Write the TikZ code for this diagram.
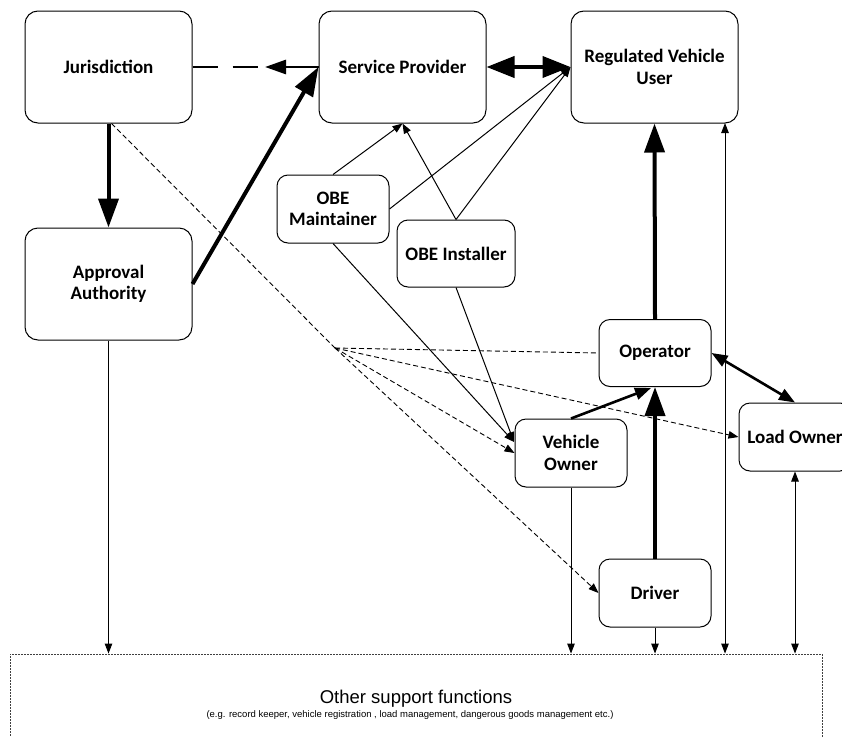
\documentclass[tikz,border=0pt]{standalone}
\usepackage{fontspec}
\setmainfont{Carlito}
\newfontfamily\supfont{Liberation Sans}
\usetikzlibrary{arrows.meta,calc}

\begin{document}
\begin{tikzpicture}[x=1pt,y=-1pt,
  box/.style={draw, line width=1pt, rounded corners=13pt, align=center,
    font=\bfseries\fontsize{19}{21.5}\selectfont, inner sep=0pt},
  bigbox/.style={box, minimum width=167pt, minimum height=112pt},
  smallbox/.style={box, rounded corners=11pt},
  thinline/.style={line width=1pt},
  thinarrow/.style={thinline, -{Triangle[length=10pt,width=7.5pt]}},
  thinboth/.style={thinline, {Triangle[length=10pt,width=7.5pt]}-{Triangle[length=10pt,width=7.5pt]}},
  dashline/.style={line width=0.9pt, dash pattern=on 5pt off 3pt},
  dasharrow/.style={dashline, -{Triangle[length=10pt,width=7.5pt]}},
  heavyarrow/.style={line width=4pt, -{Triangle[length=29pt,width=20pt]}},
  heavyboth/.style={line width=4pt, {Triangle[length=28pt,width=21pt]}-{Triangle[length=28pt,width=21pt]}},
  midarrow/.style={line width=2.6pt, -{Triangle[length=16pt,width=12pt]}},
  midboth/.style={line width=2.6pt, {Triangle[length=16pt,width=12pt]}-{Triangle[length=16pt,width=12pt]}},
]
\clip (0,0) rectangle (842,736);
\fill[white] (0,0) rectangle (842,736);

% main boxes
\node[bigbox] (jur) at (108.5,67) {Jurisdiction};
\node[bigbox] (sp)  at (402.5,67) {Service Provider};
\node[bigbox] (rvu) at (654.5,67) {Regulated Vehicle\\User};
\node[bigbox] (aa)  at (108.5,284) {Approval\\Authority};

% smaller role boxes
\node[smallbox, minimum width=112pt, minimum height=68pt] (obem) at (333,209) {OBE\\Maintainer};
\node[smallbox, minimum width=118pt, minimum height=67pt] (obei) at (456,253.5) {OBE Installer};
\node[smallbox, minimum width=112pt, minimum height=67pt] (op)  at (655,353) {Operator};
\node[smallbox, minimum width=112pt, minimum height=68pt] (vo)  at (571,453) {Vehicle\\Owner};
\node[smallbox, minimum width=112pt, minimum height=68pt] (lo)  at (795,437) {Load Owner};
\node[smallbox, minimum width=112pt, minimum height=68pt] (drv) at (655,593) {Driver};

% support functions area
\node[draw=black!75, line width=0.9pt, dash pattern=on 2pt off 1pt,
      minimum width=812pt, minimum height=96pt, inner sep=0pt] (sup) at (416,702) {};
\node[font=\supfont\fontsize{18.5}{22}\selectfont, inner sep=0pt] (suptitle) at (416,699)
  {Other support functions};
\node[font=\supfont\fontsize{9.5}{11}\selectfont, inner sep=0pt] (supnote) at (410,715)
  {(e.g. record keeper, vehicle registration , load management, dangerous goods management etc.)};

% helper points
\coordinate (jsmid) at (265,67);
\coordinate (fan) at (335,348);
\coordinate (rvux) at (725,123);
\coordinate (vox) at (514,442);

% jurisdiction / approval / provider
\draw[heavyarrow] (jur.south) -- (aa.north);
\draw[heavyarrow] (aa.east) -- (sp.west);
\draw[line width=2.7pt, -{Triangle[length=21pt,width=14pt]}] (sp.west) -- (jsmid);
\draw[line width=2.7pt, dash pattern=on 25pt off 15pt] (jur.east) -- (jsmid);
\draw[heavyboth] (sp.east) -- (rvu.west);

% OBE roles
\draw[thinarrow] (obem.north) -- (sp.south);
\draw[thinarrow] (obei.north) -- (sp.south);
\draw[thinarrow] (obem.east) -- (rvu.west);
\draw[thinarrow] (obei.north) -- (rvu.west);
\draw[thinarrow] (obem.south) -- (vox);
\draw[thinarrow] (obei.south) -- (vox);

% dashed fan from jurisdiction
\draw[dashline] (jur.south) ++(3,0) -- (fan);
\draw[dashline] (fan) -- (op.west);
\draw[dasharrow] (fan) -- (vo.west);
\draw[dasharrow] (fan) -- (lo.west);
\draw[dasharrow] (fan) -- (drv.west);

% operator chain
\draw[heavyarrow] (op.north) -- (rvu.south);
\draw[heavyarrow] (drv.north) -- (op.south);
\draw[midarrow] (vo.north) -- ($(op.south)+(-4,1)$);
\draw[midboth] (op.east) -- (lo.north);

% links to the support functions
\draw[thinarrow] (aa.south) -- (sup.north -| aa.south);
\draw[thinarrow] (vo.south) -- (sup.north -| vo.south);
\draw[thinarrow] (drv.south) -- (sup.north -| drv.south);
\draw[thinboth] (rvux) -- (sup.north -| rvux);
\draw[thinboth] (lo.south) -- (sup.north -| lo.south);
\end{tikzpicture}
\end{document}
